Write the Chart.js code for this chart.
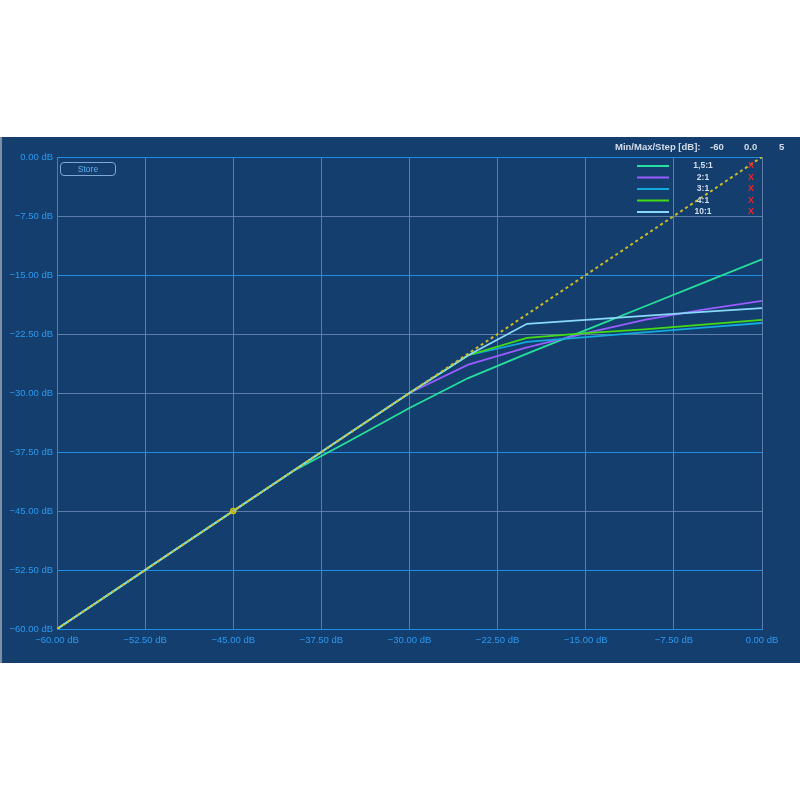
<!DOCTYPE html>
<html>
<head>
<meta charset="utf-8">
<script src="https://cdn.jsdelivr.net/npm/chart.js@4"></script>
<style>
  body { margin: 0; background: #fff; }
  #panel {
    position: absolute; left: 0; top: 137px; width: 798px; height: 526px;
    background: #143e6e; border-left: 2px solid #7d8fa5; border-right: 0;
  }
  #chart { position: absolute; left: -2px; top: 0; }
  .hdr { position: absolute; top: 4px; font: bold 9.5px "Liberation Sans", Arial, sans-serif; color: #d3dcea; }
  #store {
    position: absolute; left: 58px; top: 25px; width: 54px; height: 12px;
    border: 1px solid #7ea7d6; border-radius: 4px;
    font: 8.5px "Liberation Sans", Arial, sans-serif; color: #5eb2f2;
    text-align: center; line-height: 12px;
  }
</style>
</head>
<body>
<div id="panel">
  <canvas id="chart" width="800" height="526"></canvas>
  <div class="hdr" style="left:613px">Min/Max/Step [dB]:</div>
  <div class="hdr" style="left:708px">-60</div>
  <div class="hdr" style="left:742px">0.0</div>
  <div class="hdr" style="left:777px">5</div>
  <div id="store">Store</div>
</div>
<script>
// input level (dB) and output curves
const inputDb   = [-60, -55, -50, -45, -40, -35, -30, -25, -20, -15, -10, -5, 0];
const ratio1_5  = [-60, -55, -50, -45, -40, -36.0, -31.9, -28.1, -25.0, -22.0, -19.0, -16.0, -13.0];
const ratio2    = [-60, -55, -50, -45, -40, -35, -30.0, -26.4, -24.2, -22.4, -20.7, -19.4, -18.3];
const ratio3    = [-60, -55, -50, -45, -40, -35, -30, -25.2, -23.5, -22.9, -22.3, -21.7, -21.1];
const ratio4    = [-60, -55, -50, -45, -40, -35, -30, -25.2, -23.0, -22.4, -21.9, -21.3, -20.7];
const ratio10   = [-60, -55, -50, -45, -40, -35, -30, -25.2, -21.2, -20.7, -20.2, -19.7, -19.2];
const unity     = [-60, -55, -50, -45, -40, -35, -30, -25, -20, -15, -10, -5, 0];
const curveLabels = ['1,5:1', '2:1', '3:1', '4:1', '10:1'];
const curveColors = ['#26e09b', '#9a5cff', '#12a9dd', '#43dc12', '#8ad9fb'];

const pts = ys => ys.map((y, i) => ({ x: inputDb[i], y: y }));
const fmt = v => (v < 0 ? '\u2212' : '') + Math.abs(v).toFixed(2) + ' dB';

const BLUE = '#1f8ee2';
const GREY = '#5d7dab';
const xBlue = [-60, -45, -37.5, -22.5, -15];
const yBlue = [0, -15, -37.5, -52.5, -60];

const curves = [ratio1_5, ratio2, ratio3, ratio4, ratio10].map((ys, i) => ({
  label: curveLabels[i],
  data: pts(ys),
  borderColor: curveColors[i],
  borderWidth: 1.8,
  pointRadius: 0,
  order: 5 - i + 1
}));

const legendPlugin = {
  id: 'curveLegend',
  afterDraw(chart) {
    const ctx = chart.ctx;
    const rows = [166, 177.5, 189, 200.5, 212];
    ctx.save();
    rows.forEach((y, i) => {
      const yy = y - 137;
      ctx.strokeStyle = curveColors[i];
      ctx.lineWidth = 2;
      ctx.beginPath();
      ctx.moveTo(637, yy);
      ctx.lineTo(669, yy);
      ctx.stroke();
      ctx.fillStyle = '#d2deec';
      ctx.font = 'bold 8.5px "Liberation Sans", Arial, sans-serif';
      ctx.textAlign = 'center';
      ctx.textBaseline = 'middle';
      ctx.fillText(curveLabels[i], 703, yy);
      ctx.fillStyle = '#ff1f1f';
      ctx.font = 'bold 9px "Liberation Sans", Arial, sans-serif';
      ctx.fillText('X', 751, yy);
    });
    ctx.restore();
  }
};

new Chart(document.getElementById('chart'), {
  type: 'line',
  data: {
    datasets: [
      {
        label: 'unity',
        data: pts(unity),
        borderColor: '#cdbd22',
        borderWidth: 2,
        borderDash: [3, 3],
        pointRadius: inputDb.map(v => v === -45 ? 2.5 : 0),
        pointBorderColor: '#d8c400',
        pointBackgroundColor: 'rgba(0,0,0,0)',
        pointBorderWidth: 1.5,
        order: 0
      },
      ...curves
    ]
  },
  options: {
    responsive: false,
    animation: false,
    layout: { padding: { left: 0, right: 38, top: 20, bottom: 0 } },
    plugins: { legend: { display: false }, tooltip: { enabled: false } },
    scales: {
      x: {
        type: 'linear', min: -60, max: 0,
        afterFit: s => { s.height = 34; },
        ticks: {
          stepSize: 7.5, padding: 6, color: '#2b9af0',
          font: { family: '"Liberation Sans", Arial, sans-serif', size: 9.5 },
          callback: fmt, maxRotation: 0, autoSkip: false
        },
        grid: {
          drawTicks: false, lineWidth: 1,
          color: c => xBlue.includes(c.tick.value) ? BLUE : GREY
        },
        border: { color: BLUE, width: 1 }
      },
      y: {
        min: -60, max: 0,
        afterFit: s => { s.width = 57; },
        ticks: {
          stepSize: 7.5, padding: 4, color: '#2b9af0',
          font: { family: '"Liberation Sans", Arial, sans-serif', size: 9.5 },
          callback: fmt, autoSkip: false
        },
        grid: {
          drawTicks: false, lineWidth: 1,
          color: c => yBlue.includes(c.tick.value) ? BLUE : GREY
        },
        border: { color: BLUE, width: 1 }
      }
    }
  },
  plugins: [legendPlugin]
});
</script>
</body>
</html>
